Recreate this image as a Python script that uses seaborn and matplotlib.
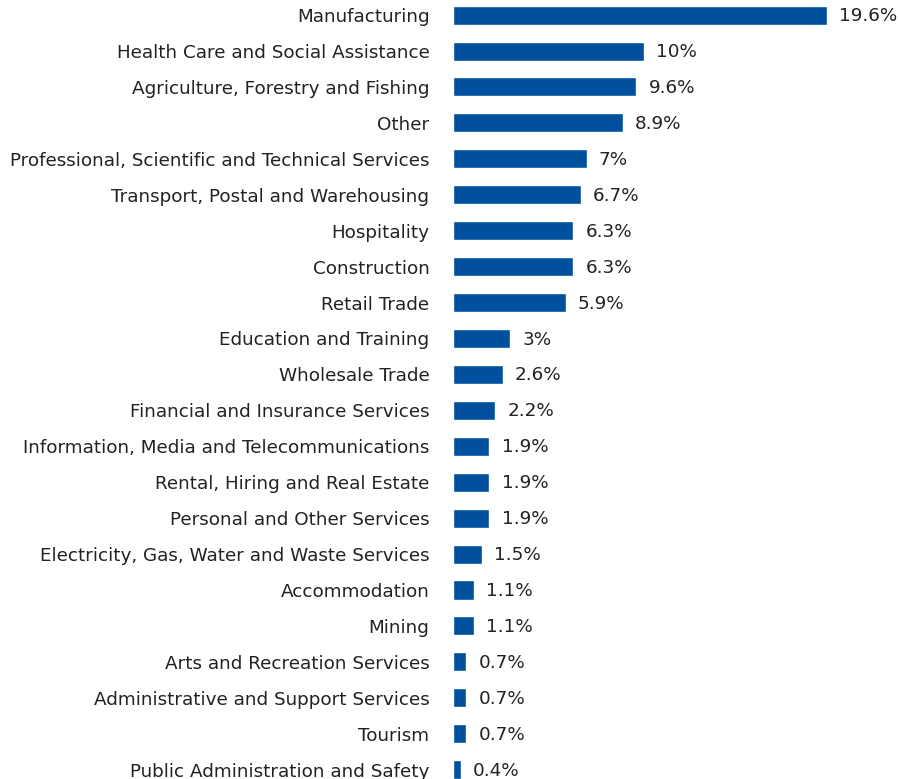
import matplotlib
matplotlib.use("Agg")
import matplotlib.pyplot as plt
import seaborn as sns
import pandas as pd

industries = [
    "Manufacturing",
    "Health Care and Social Assistance",
    "Agriculture, Forestry and Fishing",
    "Other",
    "Professional, Scientific and Technical Services",
    "Transport, Postal and Warehousing",
    "Hospitality",
    "Construction",
    "Retail Trade",
    "Education and Training",
    "Wholesale Trade",
    "Financial and Insurance Services",
    "Information, Media and Telecommunications",
    "Rental, Hiring and Real Estate",
    "Personal and Other Services",
    "Electricity, Gas, Water and Waste Services",
    "Accommodation",
    "Mining",
    "Arts and Recreation Services",
    "Administrative and Support Services",
    "Tourism",
    "Public Administration and Safety",
]
shares = [19.6, 10, 9.6, 8.9, 7, 6.7, 6.3, 6.3, 5.9, 3, 2.6, 2.2,
          1.9, 1.9, 1.9, 1.5, 1.1, 1.1, 0.7, 0.7, 0.7, 0.4]
share_labels = ["19.6%", "10%", "9.6%", "8.9%", "7%", "6.7%", "6.3%", "6.3%",
                "5.9%", "3%", "2.6%", "2.2%", "1.9%", "1.9%", "1.9%", "1.5%",
                "1.1%", "1.1%", "0.7%", "0.7%", "0.7%", "0.4%"]

df = pd.DataFrame({"industry": industries, "share": shares})

sns.set_theme(style="white")
plt.rcParams["font.family"] = ["DejaVu Sans"]

fig = plt.figure(figsize=(8.98, 7.79), dpi=100)
ax = fig.add_axes([453 / 898, 0, 1 - 453 / 898, 1])

sns.barplot(data=df, x="share", y="industry", orient="h",
            color="#00509E", saturation=1, width=0.53, ax=ax)

for i, (v, lab) in enumerate(zip(shares, share_labels)):
    ax.text(v + 0.65, i + 0.03, lab, va="center", ha="left",
            fontsize=13.2, color="#222222")

ax.set_xlim(0, 445 / 19.08)
ax.set_ylim(21.26, -0.42)
ax.set_xlabel("")
ax.set_ylabel("")
ax.set_xticks([])
ax.tick_params(axis="y", length=0, pad=17, labelsize=13.2, labelcolor="#222222")
sns.despine(ax=ax, left=True, bottom=True)

fig.savefig("out.png", dpi=100)
